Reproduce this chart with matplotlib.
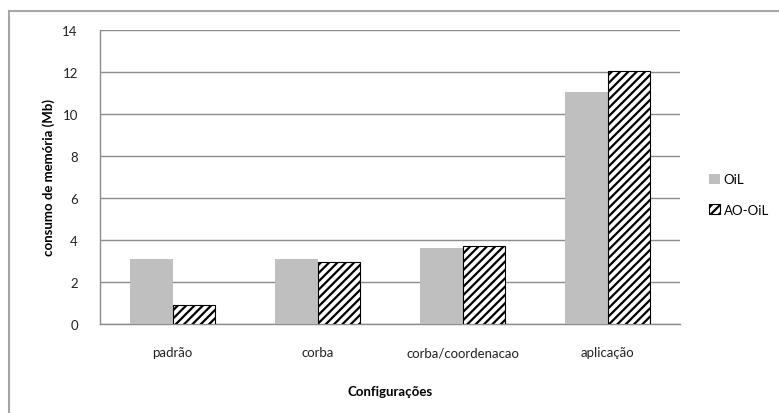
import numpy as np
import matplotlib.pyplot as plt
from matplotlib.patches import Rectangle

# consumo de memória por configuração
configuracoes = ["padrão", "corba", "corba/coordenacao", "aplicação"]
oil = [3.1, 3.1, 3.6, 11.05]
ao_oil = [0.92, 2.95, 3.7, 12.03]
yticks = [0, 2, 4, 6, 8, 10, 12, 14]

plt.rcParams['font.family'] = ['Lato', 'DejaVu Sans']
plt.rcParams['hatch.linewidth'] = 1.6

fig = plt.figure(figsize=(7.79, 4.14), dpi=100)
ax = fig.add_axes([100 / 779, 1 - 325 / 414, 580 / 779, 294 / 414])

# moldura externa do gráfico
fig.patches.append(Rectangle((9 / 779, -0.05), 1.0, 1 - 12 / 414 + 0.05,
                             transform=fig.transFigure, fill=False,
                             edgecolor='#a6a6a6', linewidth=1.5))

x = np.arange(len(configuracoes))
w = 0.29
ax.bar(x - w / 2, oil, w, color='#bfbfbf', label='OiL', zorder=3)
ax.bar(x + w / 2, ao_oil, w, color='white', edgecolor='black', hatch='////',
       linewidth=0.8, label='AO-OiL', zorder=3)

ax.set_xlim(-0.5, len(configuracoes) - 0.5)
ax.set_ylim(0, 14)
ax.set_yticks(yticks)
ax.set_xticks(x)
ax.set_xticklabels(configuracoes)
ax.tick_params(axis='both', length=0, labelsize=9.5, colors='#222222')
ax.tick_params(axis='y', pad=16)
ax.tick_params(axis='x', pad=16)
ax.grid(axis='y', color='#8c8c8c', linewidth=1.0, zorder=0)

for s in ['top', 'right']:
    ax.spines[s].set_visible(False)
for s in ['left', 'bottom']:
    ax.spines[s].set_color('#8c8c8c')
    ax.spines[s].set_linewidth(1.0)

ax.set_ylabel('consumo de memória (Mb)', fontsize=9.5, fontweight='bold', labelpad=5)
ax.set_xlabel('Configurações', fontsize=9.5, fontweight='bold', labelpad=19)

ax.legend(loc='center left', bbox_to_anchor=(1.03, 0.44), frameon=False,
          fontsize=9.5, handlelength=0.8, handleheight=0.8, handletextpad=0.3,
          labelspacing=1.4)

fig.savefig('out.png', dpi=100)
